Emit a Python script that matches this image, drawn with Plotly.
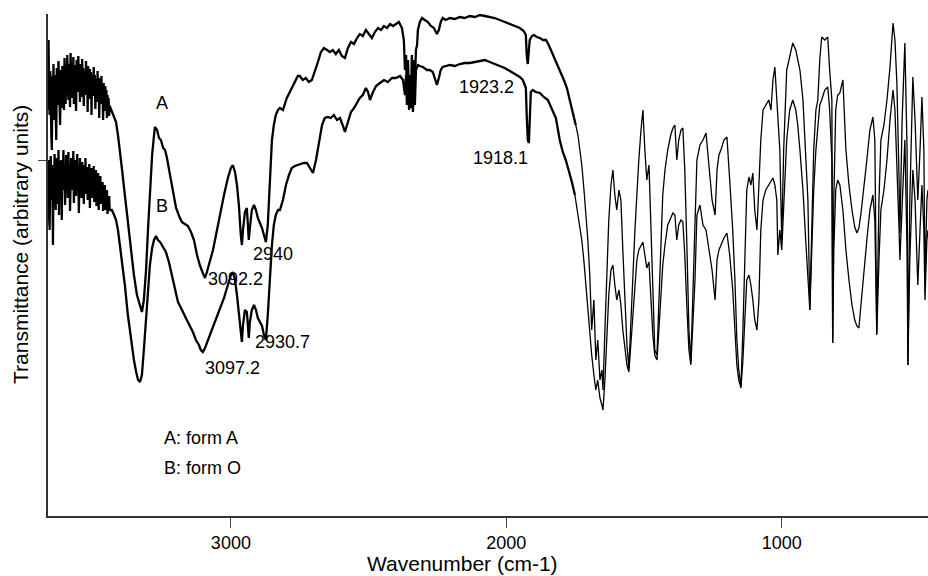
import plotly.graph_objects as go

# Trace A (form A): wavenumber (cm-1) and transmittance (arbitrary units)
A_wn = [3664,3662,3660,3658,3656,3654,3652,3650,3648,3646,3644,3642,3640,3638,3636,3634,3632,3630,3628,3626,3624,3622,3620,3618,3616,3614,3612,3610,3608,3606,3604,3602,3600,3598,3596,3594,3592,3590,3588,3586,3584,3582,3580,3578,3576,3574,3572,3570,3568,3566,3564,3562,3560,3558,3556,3554,3552,3550,3548,3546,3544,3542,3540,3538,3536,3534,3532,3530,3528,3526,3524,3522,3520,3518,3516,3514,3512,3510,3508,3506,3504,3502,3500,3498,3496,3494,3492,3490,3488,3486,3484,3482,3480,3478,3476,3474,3472,3470,3468,3466,3464,3462,3460,3458,3456,3454,3452,3450,3448,3446,3444,3442,3440,
        3432,3424,3417,3410,3403,3395,3385,3374,3363,3352,3341,3330,3323,3316,3308,3301,3294,3286,3279,3276,3268,3261,3254,3246,3239,3232,3221,3210,3199,3188,3178,3167,3156,3145,3134,3123,3113,3102,3094,3087,3076,3065,3054,3040,3025,3011,3000,2993,2985,2978,2971,2964,2960,2956,2949,2942,2938,2935,2931,2924,2916,2909,2902,2895,2887,2880,2873,2866,2858,2851,2844,2837,2829,2822,2811,2804,2797,2786,2775,2764,2757,2750,2739,2728,2717,2706,2695,2684,2673,2662,2651,2641,2630,2619,2608,2597,2586,2575,2564,2553,2542,2532,2521,2510,2499,2488,2477,2466,2455,2444,2433,2422,2411,2401,2390,2379,2372,2368,2364,2361,2357,2353,2350,2346,2343,2339,2335,2332,2328,2324,2321,2314,2306,2296,2285,2274,2263,2252,2245,2238,2231,2220,2205,2187,2169,2151,2133,2114,2096,2078,2060,2042,2024,2006,1987,1969,1951,1937,1929,1926,1922,1918,1915,1907,1900,1889,1878,1867,1856,1846,1835,1824,1813,1802,1791,1780,1769,1758,1748,1740,1733,1726,1718,1711,1704,1697,1690,1682,1675,1668,1660,1653,1649,1642,1635,1628,1620,1613,1606,1599,1591,1584,1577,1570,1562,1555,1548,1541,1533,1526,1519,1511,1504,1497,1490,1482,1475,1468,1461,1453,1446,1439,1432,1424,1414,1403,1395,1388,1381,1374,1366,1359,1352,1344,1337,1330,1323,1315,1308,1297,1286,1275,1264,1253,1242,1235,1228,1221,1210,1199,1189,1178,1170,1163,1156,1148,1141,1134,1127,1119,1112,1105,1098,1090,1083,1076,1068,1058,1047,1039,1032,1025,1018,1014,1007,1000,993,982,971,960,949,942,934,923,913,905,898,891,884,876,869,862,855,844,833,826,818,815,811,804,797,789,778,767,756,745,735,727,720,713,702,691,680,669,662,655,647,640,629,618,607,596,589,582,574,571,563,553,545,542,535,524,516,506,498,491,484,480,473,469]
A_T = [406,476,420,401,445,431,380,366,440,421,452,396,430,441,405,376,448,426,411,455,438,415,391,446,431,408,450,444,419,406,458,436,412,447,421,461,430,416,452,434,409,463,440,418,449,427,459,412,444,451,420,405,456,438,424,460,431,446,414,452,440,419,457,433,448,410,445,436,421,455,429,446,404,450,438,417,447,425,444,401,441,432,420,449,426,441,407,437,430,414,445,421,436,398,438,428,412,440,420,431,396,433,424,405,430,416,426,398,421,404,418,400,410,
       404,398,394,381,366,346,321,294,266,241,221,211,204,216,246,286,326,361,381,389,386,378,376,368,366,358,341,324,308,300,294,292,290,284,276,261,251,243,238,244,254,266,281,301,321,338,348,351,344,331,311,281,271,286,304,308,291,276,288,306,311,306,298,294,288,281,274,291,346,376,391,401,406,408,406,412,418,424,430,436,440,440,436,438,434,436,444,454,464,468,466,464,466,462,466,460,458,468,474,472,478,482,480,486,482,478,484,488,486,490,488,492,490,492,494,488,476,446,461,421,456,411,441,416,461,424,456,436,466,471,486,494,498,496,494,490,488,482,486,494,498,496,498,497,499,498,500,499,501,500,499,498,496,494,492,490,488,485,481,461,452,466,476,480,481,479,478,476,476,471,464,458,451,444,436,428,416,404,391,381,366,351,326,301,276,241,186,216,156,176,136,146,126,186,246,296,331,346,321,306,326,316,266,216,171,148,186,236,286,326,356,386,406,366,336,351,286,216,166,161,216,276,321,346,366,381,388,391,356,376,386,388,346,266,186,154,216,296,356,371,376,383,351,316,301,346,361,366,376,379,336,286,236,176,146,130,186,256,326,339,331,343,306,286,326,376,406,411,416,406,436,449,416,406,366,276,366,446,461,473,466,456,446,416,366,316,206,286,366,406,416,456,479,476,479,446,416,173,316,406,421,423,436,366,331,306,289,283,288,301,326,356,386,399,376,183,316,376,391,416,449,493,476,433,336,283,396,473,366,151,316,439,396,316,366,419,366,233,316,326]

# Trace B (form O)
B_wn = [3664,3662,3660,3658,3656,3654,3652,3650,3648,3646,3644,3642,3640,3638,3636,3634,3632,3630,3628,3626,3624,3622,3620,3618,3616,3614,3612,3610,3608,3606,3604,3602,3600,3598,3596,3594,3592,3590,3588,3586,3584,3582,3580,3578,3576,3574,3572,3570,3568,3566,3564,3562,3560,3558,3556,3554,3552,3550,3548,3546,3544,3542,3540,3538,3536,3534,3532,3530,3528,3526,3524,3522,3520,3518,3516,3514,3512,3510,3508,3506,3504,3502,3500,3498,3496,3494,3492,3490,3488,3486,3484,3482,3480,3478,3476,3474,3472,3470,3468,3466,3464,3462,3460,3458,3456,3454,3452,3450,3448,3446,3444,3442,3440,
        3432,3424,3417,3410,3403,3395,3385,3374,3363,3352,3344,3337,3330,3323,3316,3308,3301,3294,3286,3279,3272,3265,3257,3246,3236,3225,3214,3203,3192,3181,3170,3160,3149,3138,3127,3116,3109,3102,3094,3083,3073,3062,3051,3040,3025,3011,3000,2993,2985,2978,2971,2964,2960,2956,2949,2942,2938,2935,2931,2924,2916,2909,2902,2895,2887,2880,2873,2866,2858,2851,2844,2837,2829,2822,2811,2800,2789,2779,2768,2757,2746,2735,2724,2713,2702,2691,2680,2669,2659,2648,2637,2626,2615,2604,2593,2586,2575,2564,2553,2542,2532,2521,2510,2502,2495,2484,2473,2459,2444,2430,2415,2401,2386,2375,2368,2364,2361,2357,2353,2350,2346,2343,2339,2335,2332,2328,2321,2314,2303,2288,2278,2267,2260,2252,2245,2238,2231,2216,2205,2187,2169,2151,2133,2114,2096,2078,2060,2042,2024,2006,1987,1969,1951,1940,1929,1926,1922,1918,1915,1911,1904,1893,1878,1864,1849,1835,1820,1806,1795,1784,1773,1762,1751,1740,1733,1726,1718,1711,1704,1697,1690,1682,1675,1668,1660,1653,1649,1642,1635,1628,1620,1613,1606,1599,1591,1584,1577,1570,1562,1555,1548,1541,1533,1526,1519,1511,1504,1497,1490,1482,1475,1468,1461,1453,1446,1439,1432,1424,1414,1403,1395,1388,1381,1374,1366,1359,1352,1344,1337,1330,1323,1315,1308,1297,1286,1275,1264,1253,1242,1235,1228,1221,1210,1199,1189,1178,1170,1163,1156,1148,1141,1134,1127,1119,1112,1105,1098,1090,1083,1076,1068,1058,1047,1039,1032,1025,1018,1014,1007,1000,993,982,971,960,949,942,934,923,913,905,898,891,884,876,869,862,855,844,833,826,818,815,811,804,797,789,778,767,756,745,735,727,720,713,702,691,680,669,662,655,647,640,629,618,607,596,589,582,574,571,563,553,545,542,535,524,516,506,498,491,484,480,473,469]
B_T = [336,356,300,286,341,360,316,351,330,271,345,336,362,321,306,358,346,312,326,366,301,341,355,331,356,296,348,334,366,326,351,311,336,361,328,348,318,364,338,350,305,340,358,326,346,336,365,313,351,334,356,320,344,362,327,350,303,339,358,331,348,318,354,336,344,312,351,330,358,322,341,349,316,346,334,352,308,339,327,348,318,342,331,350,314,337,326,346,310,335,324,343,306,330,319,340,312,328,318,334,305,326,314,331,306,322,312,326,302,318,309,320,306,
       306,301,296,286,271,254,231,201,176,156,144,136,134,141,166,196,226,251,268,276,280,276,274,268,264,254,241,226,214,208,201,196,190,184,176,171,166,164,168,176,184,191,198,206,218,231,241,244,236,221,201,181,174,191,206,204,186,178,194,206,211,206,198,194,190,181,176,201,246,271,291,301,306,306,316,331,341,348,350,351,352,353,353,348,343,356,376,391,398,399,398,401,396,398,390,384,394,404,408,413,418,421,428,424,416,424,430,433,436,434,438,438,440,436,421,441,411,434,406,431,408,426,404,436,411,446,451,450,449,446,446,444,438,431,438,446,449,450,451,450,452,453,453,454,455,456,454,452,450,448,445,442,439,436,428,401,376,373,406,424,426,424,423,419,416,408,398,376,364,356,346,334,321,303,291,276,254,231,206,181,161,141,126,136,118,111,106,136,186,221,246,251,231,216,226,211,186,166,151,144,171,206,231,256,266,271,274,261,248,254,216,181,161,156,186,221,251,271,291,298,303,301,276,291,296,294,261,206,166,151,186,236,301,311,291,286,266,246,216,256,266,271,278,283,261,226,186,151,136,128,156,196,236,241,231,216,196,186,216,286,316,326,331,336,338,331,316,261,286,266,316,376,406,416,406,391,366,326,276,236,206,266,326,366,391,411,416,426,429,406,356,173,266,326,336,331,306,266,236,211,196,190,188,211,241,276,306,321,296,181,256,306,326,356,396,426,406,356,286,256,316,376,266,151,256,346,316,231,286,331,286,216,276,286]

assert len(A_wn) == len(A_T), (len(A_wn), len(A_T))
assert len(B_wn) == len(B_T), (len(B_wn), len(B_T))

# Peak labels (wavenumber position, transmittance position, text)
label_text = ["A", "B", "2940", "3092.2", "2930.7", "3097.2", "1923.2", "1918.1"]
label_wn = [3250, 3250, 2848, 2982, 2811, 2993, 2071, 2020]
label_T = [413, 310, 262, 237, 174, 148, 429, 358]

legend_text = ["A: form A", "B: form O"]
legend_wn = [3250, 3250]
legend_T = [78, 48]

xtick_vals = [3000, 2000, 1000]
x_range = [3664, 469]
y_range = [0, 502]
ytick_vals = [356]

FONT = "Liberation Sans, Arial, Helvetica, sans-serif"
SPLIT_HI = 1748
SPLIT_LO = 1758

fig = go.Figure()
for wn, T in ((A_wn, A_T), (B_wn, B_T)):
    hi = [(w, t) for w, t in zip(wn, T) if w >= SPLIT_HI]
    lo = [(w, t) for w, t in zip(wn, T) if w <= SPLIT_LO]
    fig.add_trace(go.Scatter(x=[p[0] for p in hi], y=[p[1] for p in hi], mode="lines",
                             line=dict(color="black", width=2.3), hoverinfo="skip"))
    fig.add_trace(go.Scatter(x=[p[0] for p in lo], y=[p[1] for p in lo], mode="lines",
                             line=dict(color="black", width=1.3), hoverinfo="skip"))

for t, x, y in zip(label_text, label_wn, label_T):
    fig.add_annotation(x=x, y=y, xref="x", yref="y", text=t, showarrow=False,
                       font=dict(family=FONT, size=18, color="black"),
                       xanchor="center", yanchor="middle")
for t, x, y in zip(legend_text, legend_wn, legend_T):
    fig.add_annotation(x=x, y=y, xref="x", yref="y", text=t, showarrow=False,
                       font=dict(family=FONT, size=18, color="black"),
                       xanchor="left", yanchor="middle")

# axis titles
fig.add_annotation(x=(462 - 48) / 880, y=-(563 - 516) / 502, xref="paper", yref="paper",
                   text="Wavenumber (cm-1)", showarrow=False,
                   font=dict(family=FONT, size=21, color="black"),
                   xanchor="center", yanchor="middle")
fig.add_annotation(x=-(48 - 20) / 880, y=(516 - 245) / 502, xref="paper", yref="paper",
                   text="Transmittance (arbitrary units)", showarrow=False, textangle=-90,
                   font=dict(family=FONT, size=21, color="black"),
                   xanchor="center", yanchor="middle")

fig.update_layout(
    width=928, height=576,
    margin=dict(l=48, r=0, t=14, b=60),
    paper_bgcolor="white", plot_bgcolor="white",
    showlegend=False,
    font=dict(family=FONT, size=18, color="black"),
)
fig.update_xaxes(range=x_range, tickvals=xtick_vals, ticks="outside", ticklen=10,
                 tickwidth=1, tickcolor="#444", showline=True, linecolor="#333", linewidth=1.5,
                 showgrid=False, zeroline=False, tickfont=dict(family=FONT, size=18))
fig.update_yaxes(range=y_range, tickvals=ytick_vals, ticktext=[""], ticks="outside", ticklen=8,
                 tickwidth=1, tickcolor="#444", showline=True, linecolor="#333", linewidth=1.5,
                 showgrid=False, zeroline=False)

fig.write_html("out.html")
